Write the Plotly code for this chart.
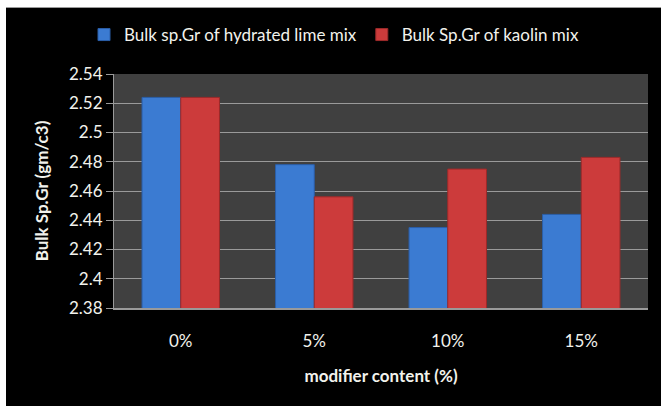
import plotly.graph_objects as go

# Bulk specific gravity by modifier content
categories = ["0%", "5%", "10%", "15%"]
lime_values = [2.524, 2.478, 2.435, 2.444]
kaolin_values = [2.524, 2.456, 2.475, 2.483]
y_ticks = [2.38, 2.40, 2.42, 2.44, 2.46, 2.48, 2.50, 2.52, 2.54]
y_tick_text = ["2.38", "2.4", "2.42", "2.44", "2.46", "2.48", "2.5", "2.52", "2.54"]

FONT = "Lato"
TEXT = "#f2f2ec"
SIZE = 17

fig = go.Figure()
fig.add_trace(go.Bar(
    x=categories, y=lime_values, name="Bulk sp.Gr of hydrated lime mix",
    marker=dict(color="#3b7bd2", line=dict(color="#2b5ea8", width=1)),
))
fig.add_trace(go.Bar(
    x=categories, y=kaolin_values, name="Bulk Sp.Gr of kaolin mix",
    marker=dict(color="#cc3b3b", line=dict(color="#9c2a2a", width=1)),
))

W, H = 661, 406
L, R, T, B = 114, 13, 74, 98
pw, ph = W - L - R, H - T - B

def px_x(x):
    return (x - L) / pw

def px_y(y):
    return (H - B - y) / ph

fig.update_layout(
    width=W, height=H,
    margin=dict(l=L, r=R, t=T, b=B),
    paper_bgcolor="black",
    plot_bgcolor="#404040",
    barmode="group",
    bargap=0.42,
    bargroupgap=0,
    font=dict(family=FONT, size=SIZE, color=TEXT),
    showlegend=True,
    legend=dict(
        orientation="h", x=0.412, xanchor="center", y=px_y(35), yanchor="middle",
        font=dict(family=FONT, size=SIZE, color=TEXT),
        bgcolor="rgba(0,0,0,0)", itemwidth=30, tracegroupgap=0,
    ),
    xaxis=dict(
        showgrid=False, showline=True, linecolor="#9a9a9a", linewidth=2,
        ticks="", tickfont=dict(family=FONT, size=SIZE, color=TEXT),
        ticklabelstandoff=17,
        title=dict(text="<b>modifier content (%)</b>", standoff=20,
                   font=dict(family=FONT, size=SIZE, color=TEXT)),
    ),
    yaxis=dict(
        range=[2.38, 2.54], tickvals=y_ticks, ticktext=y_tick_text,
        showgrid=True, gridcolor="#9a9a9a", gridwidth=1,
        showline=True, linecolor="#9a9a9a", linewidth=1,
        ticks="outside", ticklen=7, tickcolor="#9a9a9a",
        tickfont=dict(family=FONT, size=SIZE, color=TEXT),
        zeroline=False,
        title=dict(text="<b>Bulk Sp.Gr (gm/c3)</b>", standoff=16,
                   font=dict(family=FONT, size=SIZE, color=TEXT)),
    ),
    shapes=[
        # white strips framing the black panel
        dict(type="rect", xref="paper", yref="paper", x0=px_x(0), x1=px_x(6),
             y0=px_y(H), y1=px_y(0), fillcolor="white", line=dict(width=0), layer="below"),
        dict(type="rect", xref="paper", yref="paper", x0=px_x(0), x1=px_x(W),
             y0=px_y(7), y1=px_y(0), fillcolor="white", line=dict(width=0), layer="below"),
        dict(type="line", xref="paper", yref="paper", x0=px_x(6), x1=px_x(W),
             y0=px_y(7.5), y1=px_y(7.5), line=dict(color="#9a9a9a", width=1), layer="below"),
    ],
)

fig.write_html("out.html")
